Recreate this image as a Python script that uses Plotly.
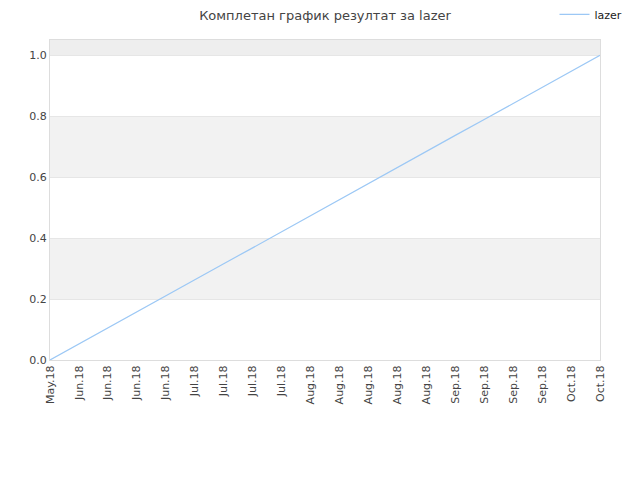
import plotly.graph_objects as go

# weekly points, May.18 -> Oct.18
tick_labels = ['May.18', 'Jun.18', 'Jun.18', 'Jun.18', 'Jun.18',
               'Jul.18', 'Jul.18', 'Jul.18', 'Jul.18',
               'Aug.18', 'Aug.18', 'Aug.18', 'Aug.18', 'Aug.18',
               'Sep.18', 'Sep.18', 'Sep.18', 'Sep.18',
               'Oct.18', 'Oct.18']
weeks = list(range(20))
lazer = [0.0, 0.053, 0.105, 0.158, 0.211, 0.263, 0.316, 0.368, 0.421, 0.474,
         0.526, 0.579, 0.632, 0.684, 0.737, 0.789, 0.842, 0.895, 0.947, 1.0]

fig = go.Figure()
fig.add_trace(go.Scatter(x=weeks, y=lazer, mode='lines', name='lazer',
                         line=dict(color='#9cc8f5', width=1.2)))

# alternating bands behind the plot
bands = [(0.2, 0.4, '#f2f2f2'), (0.6, 0.8, '#f2f2f2'), (1.0, 1.05, '#eeeeee')]
for y0, y1, c in bands:
    fig.add_shape(type='rect', xref='paper', yref='y', x0=0, x1=1, y0=y0, y1=y1,
                  fillcolor=c, line_width=0, layer='below')

# page body adds 8px offset, so margins are shifted to compensate
fig.update_layout(
    width=640, height=480,
    margin=dict(l=42, r=48, t=32, b=128, autoexpand=False),
    paper_bgcolor='white', plot_bgcolor='white',
    font=dict(family='DejaVu Sans, sans-serif', size=11, color='#444'),
    title=dict(text='Комплетан график резултат за lazer', x=0.5, xref='paper',
               y=0.985, yanchor='middle', font=dict(size=13, color='#444')),
    legend=dict(x=1.05, xanchor='right', y=1.08, yanchor='middle', itemwidth=30,
                bgcolor='rgba(0,0,0,0)', font=dict(size=11, color='#222')),
    showlegend=True,
)
fig.update_xaxes(range=[0, 19], tickvals=weeks, ticktext=tick_labels, tickangle=-90,
                 showgrid=False, zeroline=False, showline=True, linecolor='#ddd',
                 mirror=True, ticks='', automargin=False)
fig.update_yaxes(range=[0, 1.05], tickvals=[0, 0.2, 0.4, 0.6, 0.8, 1.0], tickformat='.1f',
                 showgrid=True, gridcolor='#e6e6e6', zeroline=False, showline=True,
                 linecolor='#ddd', mirror=True, ticks='', automargin=False)

fig.write_html("out.html")
